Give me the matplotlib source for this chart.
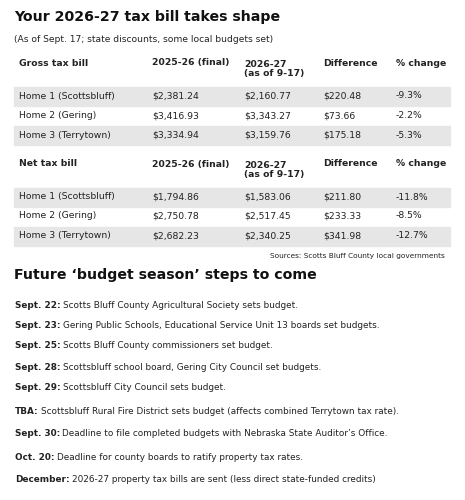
import matplotlib
matplotlib.use("Agg")
import matplotlib.pyplot as plt
from matplotlib.patches import Rectangle

title = "Your 2026-27 tax bill takes shape"
subtitle = "(As of Sept. 17; state discounts, some local budgets set)"
col_headers = ["2025-26 (final)", "2026-27\n(as of 9-17)", "Difference", "% change"]
homes = ["Home 1 (Scottsbluff)", "Home 2 (Gering)", "Home 3 (Terrytown)"]
gross_2526 = ["$2,381.24", "$3,416.93", "$3,334.94"]
gross_2627 = ["$2,160.77", "$3,343.27", "$3,159.76"]
gross_diff = ["$220.48", "$73.66", "$175.18"]
gross_pct = ["-9.3%", "-2.2%", "-5.3%"]
net_2526 = ["$1,794.86", "$2,750.78", "$2,682.23"]
net_2627 = ["$1,583.06", "$2,517.45", "$2,340.25"]
net_diff = ["$211.80", "$233.33", "$341.98"]
net_pct = ["-11.8%", "-8.5%", "-12.7%"]
source = "Sources: Scotts Bluff County local governments"
title2 = "Future \u2018budget season\u2019 steps to come"
step_dates = ["Sept. 22:", "Sept. 23:", "Sept. 25:", "Sept. 28:", "Sept. 29:", "TBA:",
              "Sept. 30:", "Oct. 20:", "December:"]
step_texts = ["Scotts Bluff County Agricultural Society sets budget.",
              "Gering Public Schools, Educational Service Unit 13 boards set budgets.",
              "Scotts Bluff County commissioners set budget.",
              "Scottsbluff school board, Gering City Council set budgets.",
              "Scottsbluff City Council sets budget.",
              "Scottsbluff Rural Fire District sets budget (affects combined Terrytown tax rate).",
              "Deadline to file completed budgets with Nebraska State Auditor\u2019s Office.",
              "Deadline for county boards to ratify property tax rates.",
              "2026-27 property tax bills are sent (less direct state-funded credits)"]

FAM = ['Liberation Sans Narrow', 'DejaVu Sans']
W, H = 465, 500
fig = plt.figure(figsize=(W/100, H/100), dpi=100)
fig.patch.set_facecolor("white")
ax = fig.add_axes([0, 0, 1, 1])
ax.set_xlim(0, W); ax.set_ylim(H, 0); ax.axis("off")
C = "#222222"

def t(x, y, s, size=7, weight="normal", ha="left", va="center", **kw):
    return ax.text(x, y, s, fontsize=size, fontweight=weight, ha=ha, va=va,
                   color=C, family=FAM, **kw)

t(14, 17, title, size=10.2, weight="heavy", color="#111111") if False else None
ax.text(14, 17, title, fontsize=10.2, fontweight="heavy", ha="left", va="center",
        color="#111111", family=FAM)
t(14, 40, subtitle, size=6.6)

colx = [152, 244, 323, 396]

def table(label, y_head, row_ys, cols):
    t(19, y_head, label, size=6.7, weight="bold")
    for x, h in zip(colx, col_headers):
        t(x, y_head if "\n" not in h else y_head + 6, h, size=6.7, weight="bold",
          linespacing=1.1)
    for i, (y, home) in enumerate(zip(row_ys, homes)):
        if i % 2 == 0:
            ax.add_patch(Rectangle((14, y - 9.5), 436, 19, color="#e6e6e6", zorder=0))
        t(19, y, home, size=6.7)
        for x, col in zip(colx, cols):
            t(x, y, col[i], size=6.7)

table("Gross tax bill", 63, [96, 116, 135], [gross_2526, gross_2627, gross_diff, gross_pct])
table("Net tax bill", 164, [197, 216, 236], [net_2526, net_2627, net_diff, net_pct])

t(445, 256, source, size=5.3, ha="right")
ax.text(14, 275, title2, fontsize=10.2, fontweight="heavy", ha="left", va="center",
        color="#111111", family=FAM)

fig.canvas.draw()
r = fig.canvas.get_renderer()
ys = [305, 326, 346, 367, 388, 411, 433, 457, 480]
for y, d, s in zip(ys, step_dates, step_texts):
    b = t(15, y, d, size=6.4, weight="bold")
    bb = b.get_window_extent(renderer=r)
    t(bb.x1 + 2, y, s, size=6.4)

fig.savefig("out.png", dpi=100)
